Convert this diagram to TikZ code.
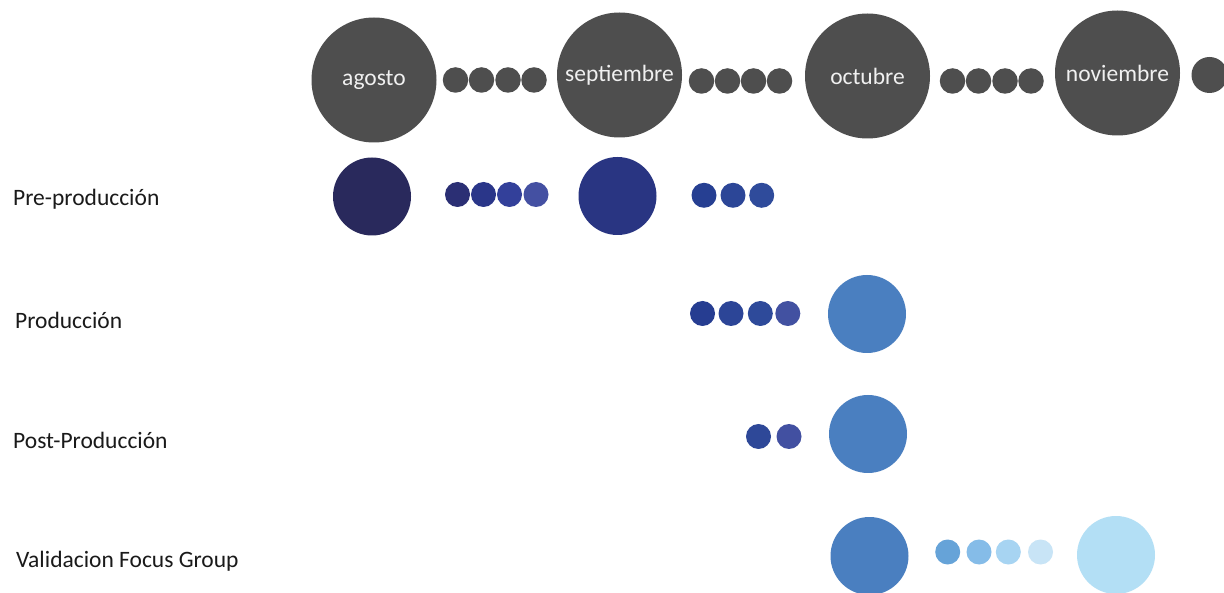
\documentclass[tikz,border=0pt]{standalone}
\usepackage{fontspec}
\setmainfont{Carlito}
\definecolor{month}{HTML}{4E4E4E}
\definecolor{monthtxt}{HTML}{F0F0F0}
\definecolor{lbl}{HTML}{1A1A1A}
\definecolor{pa}{HTML}{29295C}
\definecolor{pb}{HTML}{293582}
\definecolor{mid}{HTML}{4A7FC0}
\definecolor{light}{HTML}{B3DFF5}
\definecolor{da}{HTML}{2B2F74}
\definecolor{db}{HTML}{2A3689}
\definecolor{dc}{HTML}{33409A}
\definecolor{dd}{HTML}{4450A2}
\definecolor{ea}{HTML}{263F92}
\definecolor{eb}{HTML}{2C4697}
\definecolor{ec}{HTML}{2F4B9B}
\definecolor{fa}{HTML}{263D91}
\definecolor{fb}{HTML}{2C4597}
\definecolor{fc}{HTML}{2E4A9A}
\definecolor{fd}{HTML}{4251A1}
\definecolor{ga}{HTML}{2E4898}
\definecolor{gb}{HTML}{4250A1}
\definecolor{ha}{HTML}{66A3D8}
\definecolor{hb}{HTML}{85BCE8}
\definecolor{hc}{HTML}{A7D4F2}
\definecolor{hd}{HTML}{C8E4F6}
\tikzset{
  monthc/.style={circle, inner sep=0pt, minimum size=125pt, fill=month, text=monthtxt, font=\fontsize{23.5}{27}\selectfont},
  gdot/.style={circle, inner sep=0pt, minimum size=25.5pt, fill=month},
  dotc/.style={circle, inner sep=0pt, minimum size=25pt, fill=#1},
  bigc/.style={circle, inner sep=0pt, minimum size=78pt, fill=#1},
  rowlbl/.style={anchor=west, inner sep=0pt, text=lbl, font=\fontsize{23.5}{27}\selectfont}
}
\begin{document}
\begin{tikzpicture}[x=1pt, y=-1pt]
\useasboundingbox[fill=white] (0,0) rectangle (1224,593);
% months row
\node[monthc] (ago) at (374,80) {agosto};
\node[gdot] (g1) at (455.5,80) {};
\node[gdot] (g2) at (481.5,80) {};
\node[gdot] (g3) at (508,80) {};
\node[gdot] (g4) at (534,80) {};
\node[monthc] (sep) at (619.5,75) {septiembre};
\node[gdot] (g5) at (701.5,81) {};
\node[gdot] (g6) at (727.5,81) {};
\node[gdot] (g7) at (753.5,81) {};
\node[gdot] (g8) at (779.5,81) {};
\node[monthc] (oct) at (867.5,76) {octubre};
\node[gdot] (g9) at (952.5,81) {};
\node[gdot] (g10) at (978.5,81) {};
\node[gdot] (g11) at (1005,81) {};
\node[gdot] (g12) at (1031,81) {};
\node[monthc] (nov) at (1117.5,73) {noviembre};
\node[circle, inner sep=0pt, minimum size=36pt, fill=month] (g13) at (1209.5,75) {};
% labels
\node[rowlbl] (l1) at (13,199) {Pre-producción};
\node[rowlbl] (l2) at (15,320) {Producción};
\node[rowlbl] (l3) at (13,440) {Post-Producción};
\node[rowlbl] (l4) at (16,561) {Validacion Focus Group};
% pre-produccion
\node[bigc=pa] (p1) at (372,196.5) {};
\node[dotc=da] (p2) at (457.5,194.5) {};
\node[dotc=db] (p3) at (483.5,194.5) {};
\node[dotc=dc] (p4) at (509.5,194.5) {};
\node[dotc=dd] (p5) at (536,194.5) {};
\node[bigc=pb] (p6) at (617.5,196) {};
\node[dotc=ea] (p7) at (704,195.3) {};
\node[dotc=eb] (p8) at (733,195.3) {};
\node[dotc=ec] (p9) at (761.7,195.3) {};
% produccion
\node[dotc=fa] (q1) at (702.5,313.5) {};
\node[dotc=fb] (q2) at (731,313.5) {};
\node[dotc=fc] (q3) at (760.3,313.5) {};
\node[dotc=fd] (q4) at (787.8,313.5) {};
\node[bigc=mid] (q5) at (867,314) {};
% post-produccion
\node[dotc=ga] (r1) at (758.5,436.5) {};
\node[dotc=gb] (r2) at (789,436.5) {};
\node[bigc=mid] (r3) at (868,434) {};
% validacion
\node[bigc=mid] (s1) at (869.5,556) {};
\node[dotc=ha] (s2) at (947.7,552) {};
\node[dotc=hb] (s3) at (979,552) {};
\node[dotc=hc] (s4) at (1008.3,552) {};
\node[dotc=hd] (s5) at (1040.5,552) {};
\node[bigc=light] (s6) at (1116,555) {};
\end{tikzpicture}
\end{document}
